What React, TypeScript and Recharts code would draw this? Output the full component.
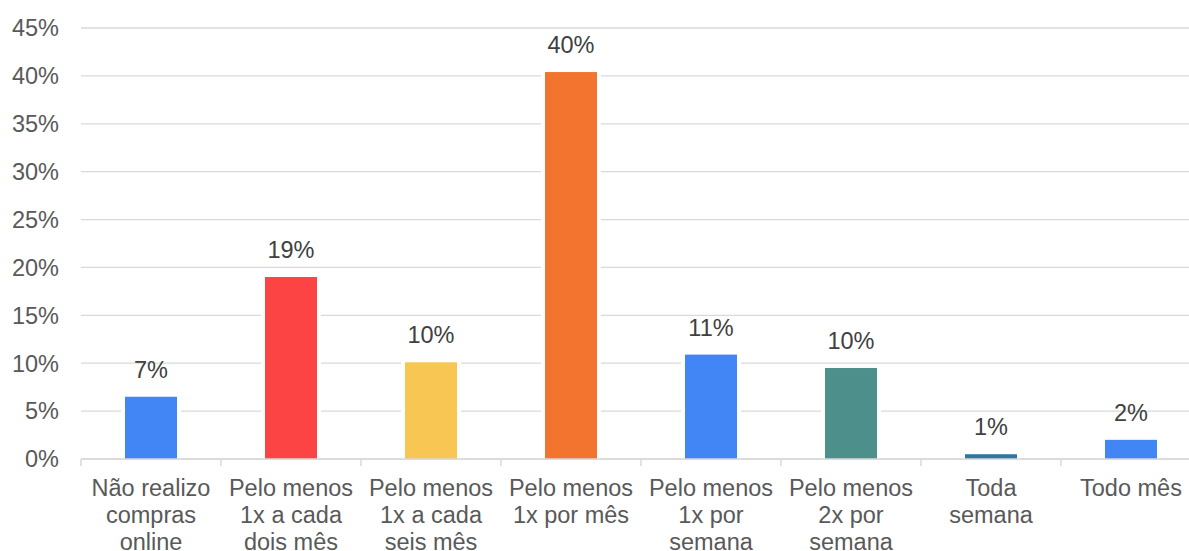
import { BarChart, Bar, XAxis, YAxis, CartesianGrid, LabelList, Cell } from 'recharts';

// categorias (quebras de linha como no original)
const categories = [
  'Não realizo\ncompras\nonline',
  'Pelo menos\n1x a cada\ndois mês',
  'Pelo menos\n1x a cada\nseis mês',
  'Pelo menos\n1x por mês',
  'Pelo menos\n1x por\nsemana',
  'Pelo menos\n2x por\nsemana',
  'Toda\nsemana',
  'Todo mês',
];
const values = [6.5, 19, 10.1, 40.4, 10.9, 9.5, 0.5, 2.0];
const valueLabels = ['7%', '19%', '10%', '40%', '11%', '10%', '1%', '2%'];
const colors = ['#4285F4', '#FC4445', '#F8C653', '#F3742E', '#4285F4', '#4D908B', '#2E78A0', '#4285F4'];
const yTicks = [0, 5, 10, 15, 20, 25, 30, 35, 40, 45];

const data = categories.map((name, i) => ({
  name,
  value: values[i],
  label: valueLabels[i],
}));

const FONT = '"Liberation Sans", Arial, sans-serif';

// barra com contorno branco (corta as linhas de grade)
const OutlinedBar = (props: any) => {
  const { x, y, width, height, fill } = props;
  if (height <= 0) return null;
  return (
    <g>
      <rect x={x - 4} y={y - 4} width={width + 8} height={height + 4} fill='#FFFFFF' />
      <rect x={x} y={y} width={width} height={height} fill={fill} />
    </g>
  );
};

const CategoryTick = (props: any) => {
  const { x, payload, index, visibleTicksCount } = props;
  const half = payload.offset || 70;
  const axisY = props.y - 8;
  const lines = String(payload.value).split('\n');
  return (
    <g>
      <line x1={x - half} x2={x - half} y1={axisY} y2={axisY + 7} stroke='#D9D9D9' strokeWidth={1.5} />
      {index === visibleTicksCount - 1 && (
        <line x1={x + half} x2={x + half} y1={axisY} y2={axisY + 7} stroke='#D9D9D9' strokeWidth={1.5} />
      )}
      <text x={x} y={axisY + 37} textAnchor='middle' fill='#595959' fontSize={23.5} fontFamily={FONT}>
        {lines.map((l, i) => (
          <tspan key={i} x={x} dy={i === 0 ? 0 : 27}>
            {l}
          </tspan>
        ))}
      </text>
    </g>
  );
};

const App = () => {
  return (
    <div
      style={{
        position: 'absolute',
        left: 0,
        top: 0,
        width: 1189,
        height: 551,
        overflow: 'hidden',
        background: '#FFFFFF',
      }}
    >
      <BarChart
        width={1210}
        height={551}
        data={data}
        margin={{ top: 28, right: 9, bottom: 0, left: 0 }}
        barCategoryGap={0}
      >
        <CartesianGrid vertical={false} stroke='#D9D9D9' strokeWidth={1.3} />
        <XAxis
          dataKey='name'
          interval={0}
          axisLine={{ stroke: '#D9D9D9', strokeWidth: 1.5 }}
          tickLine={false}
          tick={<CategoryTick />}
          height={92}
        />
        <YAxis
          domain={[0, 45]}
          ticks={yTicks}
          width={81}
          axisLine={false}
          tickLine={false}
          tickSize={20}
          tickFormatter={(v: number) => `${v}%`}
          tick={{ fill: '#595959', fontSize: 23.5, fontFamily: FONT }}
        />
        <Bar dataKey='value' barSize={52} isAnimationActive={false} shape={<OutlinedBar />}>
          {data.map((d, i) => (
            <Cell key={d.name} fill={colors[i]} />
          ))}
          <LabelList
            dataKey='label'
            position='top'
            offset={19}
            fill='#404040'
            fontSize={23.5}
            fontFamily={FONT}
          />
        </Bar>
      </BarChart>
    </div>
  );
};

export default App;
